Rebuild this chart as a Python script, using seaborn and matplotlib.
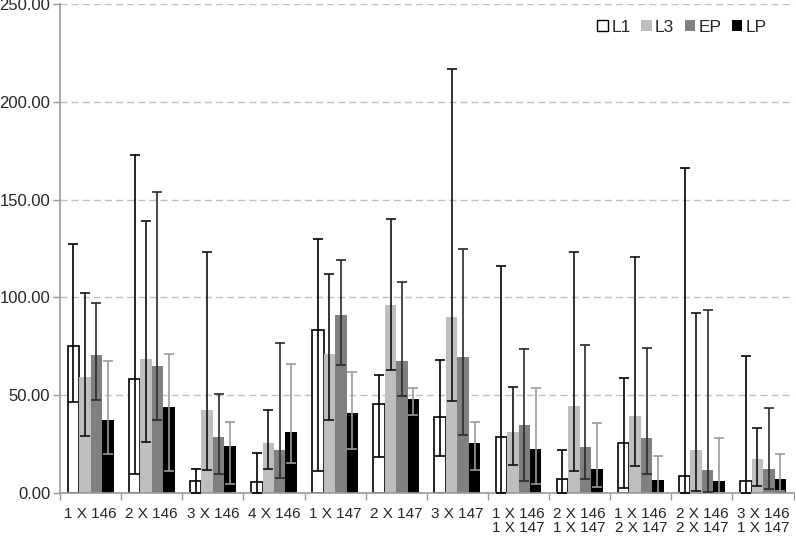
import matplotlib
matplotlib.use("Agg")
import matplotlib.pyplot as plt
import seaborn as sns
import pandas as pd
import numpy as np

categories = ["1 X 146", "2 X 146", "3 X 146", "4 X 146",
              "1 X 147", "2 X 147", "3 X 147",
              "1 X 146\n1 X 147", "2 X 146\n1 X 147",
              "1 X 146\n2 X 147", "2 X 146\n2 X 147",
              "3 X 146\n1 X 147"]
series = ["L1", "L3", "EP", "LP"]

# mean values
l1 = [75.0, 58.4, 6.1, 5.5, 83.3, 45.7, 38.7, 28.5, 7.3, 25.4, 8.5, 6.1]
l3 = [59.3, 68.7, 42.6, 25.4, 71.2, 96.3, 89.8, 31.0, 44.5, 39.4, 22.0, 17.5]
ep = [70.6, 64.9, 28.6, 22.1, 91.2, 67.5, 69.4, 34.9, 23.4, 28.0, 11.9, 12.4]
lp = [37.5, 44.0, 24.0, 31.0, 40.7, 48.2, 25.4, 22.6, 12.4, 6.8, 6.1, 7.3]

# error bar ends (low / high)
l1_low = [46.7, 9.7, 0.0, 0.0, 11.1, 18.3, 18.9, 0.0, 0.0, 2.6, 0.0, 0.0]
l1_high = [127.3, 172.6, 12.4, 20.6, 129.9, 60.3, 68.2, 115.9, 22.0, 59.0, 166.2, 69.9]
l3_low = [29.0, 26.2, 11.6, 12.3, 37.3, 62.9, 46.9, 14.3, 11.2, 13.8, 1.0, 3.4]
l3_high = [102.4, 138.9, 123.0, 42.3, 112.1, 140.0, 216.6, 54.3, 123.4, 120.5, 92.2, 33.2]
ep_low = [47.5, 37.2, 9.9, 7.8, 65.4, 49.4, 29.7, 6.1, 7.2, 9.9, 0.4, 2.0]
ep_high = [97.3, 154.0, 50.6, 76.8, 119.1, 107.7, 124.7, 73.6, 75.7, 74.3, 93.4, 43.6]
lp_low = [20.1, 11.1, 4.6, 15.2, 22.5, 40.0, 11.8, 4.8, 3.2, 0.0, 0.0, 1.0]
lp_high = [67.3, 71.1, 36.5, 66.0, 62.0, 53.8, 36.5, 53.8, 35.9, 18.8, 28.3, 20.1]

means = {"L1": l1, "L3": l3, "EP": ep, "LP": lp}
lows = {"L1": l1_low, "L3": l3_low, "EP": ep_low, "LP": lp_low}
highs = {"L1": l1_high, "L3": l3_high, "EP": ep_high, "LP": lp_high}

fill_colors = {"L1": "#ffffff", "L3": "#bebebe", "EP": "#808080", "LP": "#000000"}
err_colors = {"L1": "#000000", "L3": "#111111", "EP": "#2a2a2a", "LP": "#9a9a9a"}

rows = []
for s in series:
    for c, v in zip(categories, means[s]):
        rows.append({"cat": c, "series": s, "value": v})
df = pd.DataFrame(rows)

sns.set_style("white")
plt.rcParams["font.family"] = ["Liberation Sans", "DejaVu Sans"]

fig = plt.figure(figsize=(7.96, 5.36), dpi=100)
ax = fig.add_axes([0.0754, 0.0802, 0.9216, 0.9123])

sns.barplot(data=df, x="cat", y="value", hue="series", order=categories,
            hue_order=series, palette=fill_colors, errorbar=None,
            width=0.75, saturation=1, ax=ax, zorder=2)

for s, cont in zip(series, ax.containers):
    xs = []
    for p in cont.patches:
        if s == "L1":
            p.set_edgecolor("black")
            p.set_linewidth(1.2)
        else:
            p.set_edgecolor("none")
        xs.append(p.get_x() + p.get_width() / 2)
    m = np.array(means[s])
    lo = m - np.array(lows[s])
    hi = np.array(highs[s]) - m
    ax.errorbar(xs, m, yerr=[lo, hi], fmt="none", ecolor=err_colors[s],
                elinewidth=1.2, capsize=3.5, capthick=1.2, zorder=3)

ax.set_ylim(0, 250)
ax.set_xlim(-0.5, len(categories) - 0.5)
ax.set_yticks(np.arange(0, 251, 50))
ax.set_yticklabels([f"{v:.2f}" for v in np.arange(0, 251, 50)], fontsize=12)
ax.yaxis.grid(True, linestyle=(0, (5, 3)), color="#c0c0c0", linewidth=1)
ax.set_axisbelow(True)
ax.tick_params(axis="y", length=5, color="#999999", width=1, pad=2, left=True)

ax.set_xticks(range(len(categories)))
ax.set_xticklabels(categories, fontsize=11, linespacing=1.05)
ax.set_xticks(np.arange(-0.5, len(categories), 1), minor=True)
ax.tick_params(axis="x", which="major", length=0, pad=10)
ax.tick_params(axis="x", which="minor", length=5, color="#999999", width=1, bottom=True)

ax.set_xlabel("")
ax.set_ylabel("")
for side in ["top", "right"]:
    ax.spines[side].set_visible(False)
ax.spines["left"].set_color("#999999")
ax.spines["bottom"].set_color("#999999")
ax.spines["left"].set_linewidth(1.2)
ax.spines["bottom"].set_linewidth(1.2)

handles, labels = ax.get_legend_handles_labels()
for h in handles:
    h.set_edgecolor("black" if h.get_facecolor()[0] == 1.0 else "none")
ax.legend(handles, labels, loc="upper right", ncol=4, frameon=False,
          fontsize=12.5, handlelength=0.6, handleheight=0.6, handletextpad=0.2,
          columnspacing=0.6, bbox_to_anchor=(0.985, 1.0))

fig.savefig("out.png", dpi=100)
